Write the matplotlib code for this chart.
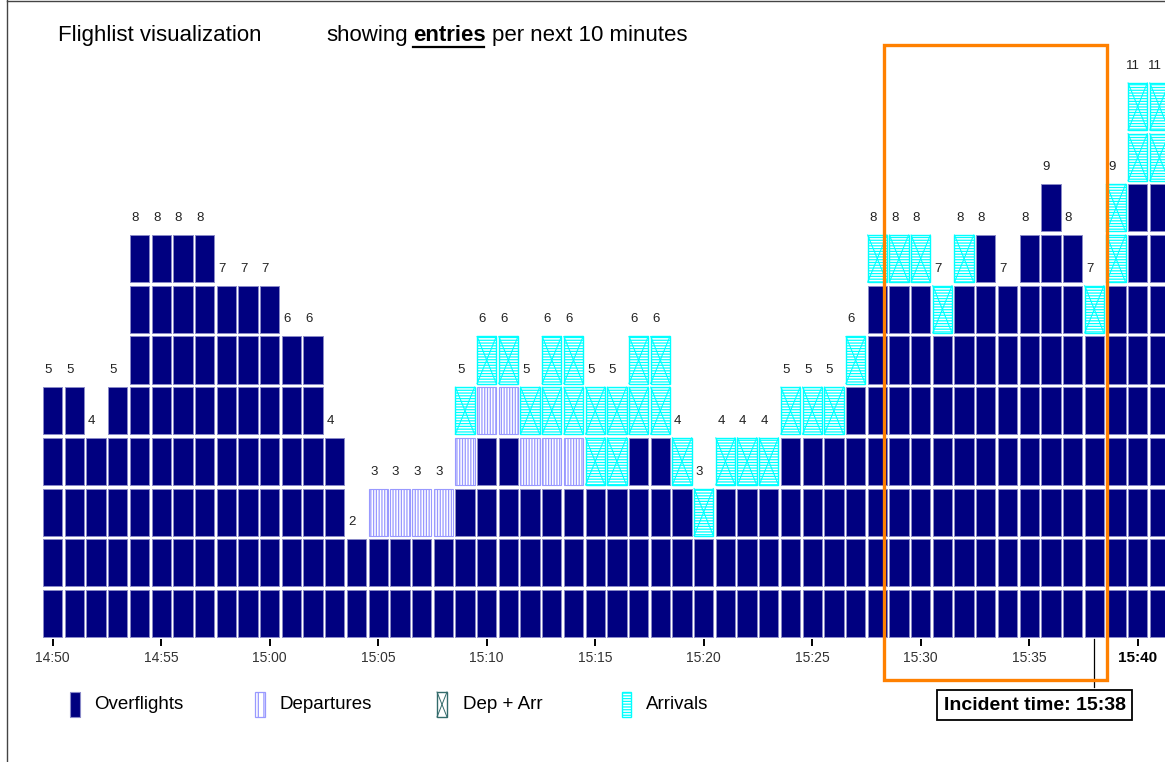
import matplotlib
matplotlib.use("Agg")
import matplotlib.pyplot as plt
from matplotlib.patches import Rectangle
from matplotlib.lines import Line2D

plt.rcParams['font.family'] = ['Liberation Sans', 'DejaVu Sans']
plt.rcParams['hatch.linewidth'] = 0.9

# one column per minute, 14:50 .. 15:41
overflights = [5, 5, 4, 5, 8, 8, 8, 8, 7, 7, 7, 6, 6, 4, 2,
               2, 2, 2, 2, 3, 4, 4, 3, 3, 3, 3, 3, 4, 4, 3,
               2, 3, 3, 3, 4, 4, 4, 5, 7, 7, 7, 6, 7, 8, 7,
               8, 9, 8, 6, 7, 9, 9]
departures = [0, 0, 0, 0, 0, 0, 0, 0, 0, 0, 0, 0, 0, 0, 0,
              1, 1, 1, 1, 1, 1, 1, 1, 1, 1, 0, 0, 0, 0, 0,
              0, 0, 0, 0, 0, 0, 0, 0, 0, 0, 0, 0, 0, 0, 0,
              0, 0, 0, 0, 0, 0, 0]
arrivals = [0, 0, 0, 0, 0, 0, 0, 0, 0, 0, 0, 0, 0, 0, 0,
            0, 0, 0, 0, 1, 1, 1, 1, 2, 2, 2, 2, 2, 2, 1,
            1, 1, 1, 1, 1, 1, 1, 1, 1, 1, 1, 1, 1, 0, 0,
            0, 0, 0, 1, 2, 2, 2]

tick_pos = [0, 5, 10, 15, 20, 25, 30, 35, 40, 45, 50]
tick_labels = ["14:50", "14:55", "15:00", "15:05", "15:10", "15:15",
               "15:20", "15:25", "15:30", "15:35", "15:40"]
incident_minute = 48
legend_names = ["Overflights", "Departures", "Dep + Arr", "Arrivals"]

W, H = 1165, 762
X0, DX = 52.7, 21.7     # pixel of first column centre, column pitch
Y0, DY = 638.85, 50.7   # pixel of baseline, row pitch

NAVY = '#000080'
NAVY_EDGE = '#8a8ac8'
DEP = '#9999ff'
ARR = '#00ffff'


def fx(px):
    return px / W


def fy(py):
    return 1 - py / H


fig = plt.figure(figsize=(W / 100, H / 100), dpi=100)
ax = fig.add_axes([0, 1 - Y0 / H, 1, Y0 / H])
ax.set_xlim(-X0 / DX, (W - X0) / DX)
ax.set_ylim(0, Y0 / DY)

cw = 0.885
gap = 0.036
ch = 1 - 2 * gap

for i in range(len(overflights)):
    k = 0
    for _ in range(overflights[i]):
        ax.bar(i, ch, bottom=k + gap, width=cw, color=NAVY,
               edgecolor=NAVY_EDGE, linewidth=0.7)
        k += 1
    for _ in range(departures[i]):
        ax.bar(i, ch, bottom=k + gap, width=cw, color='white',
               edgecolor=DEP, hatch='||||||', linewidth=0.8)
        k += 1
    for _ in range(arrivals[i]):
        ax.bar(i, ch, bottom=k + gap, width=cw, color='white',
               edgecolor=ARR, hatch='------', linewidth=1.0)
        ax.plot([i - cw / 2, i + cw / 2], [k + gap, k + 1 - gap],
                color=ARR, lw=0.8)
        ax.plot([i - cw / 2, i + cw / 2], [k + 1 - gap, k + gap],
                color=ARR, lw=0.8)
        k += 1
    ax.text(i - 0.2, k + 0.24, str(k), ha='center', va='baseline',
            fontsize=9.5, color='#222222')

ax.set_xticks(tick_pos)
ax.set_xticklabels(tick_labels)
ax.tick_params(axis='x', length=5.2, width=1.4, pad=3.5, labelsize=10,
               color='black', labelcolor='#333333')
ax.get_xticklabels()[-1].set_fontweight('bold')
ax.get_xticklabels()[-1].set_fontsize(11)
ax.get_xticklabels()[-1].set_color('black')
ax.set_yticks([])
for s in ax.spines.values():
    s.set_visible(False)
ax.patch.set_alpha(0)

# incident marker
ax.plot([incident_minute, incident_minute], [0, (Y0 - 687) / DY],
        color='black', lw=0.9, clip_on=False)
fig.text(fx(1034.5), fy(705), "Incident time: 15:38", ha='center',
         va='center', fontsize=14, fontweight='bold',
         bbox=dict(boxstyle='square,pad=0.33', fc='white', ec='black',
                   lw=1.3))

# orange highlight box
fig.add_artist(Rectangle((fx(884), fy(680)), fx(1107 - 884), (680 - 44.7) / H,
                         transform=fig.transFigure, fill=False,
                         edgecolor='#ff8000', lw=2.4, zorder=5))

# header
fig.text(fx(58), fy(41), "Flighlist visualization", fontsize=16,
         va='baseline', ha='left')
fig.text(fx(326), fy(41), "showing", fontsize=16, va='baseline', ha='left')
fig.text(fx(413), fy(41), "entries", fontsize=16, fontweight='bold',
         va='baseline', ha='left')
fig.text(fx(492), fy(41), "per next 10 minutes", fontsize=16,
         va='baseline', ha='left')
fig.add_artist(Line2D([fx(413), fx(484)], [fy(46.5), fy(46.5)],
                      transform=fig.transFigure, color='black', lw=1.6))

# legend
icon_y0, icon_y1 = 692, 717
icons = [
    (70, 80, dict(facecolor=NAVY, edgecolor=NAVY_EDGE, lw=0.8)),
    (255, 265, dict(facecolor='white', edgecolor=DEP, hatch='|||', lw=0.9)),
    (437, 447, dict(facecolor='white', edgecolor='#336b6b', lw=1.0)),
    (622, 631, dict(facecolor='white', edgecolor=ARR, hatch='------', lw=1.0)),
]
text_x = [94, 279.5, 463, 646]
for (x0, x1, style), tx, name in zip(icons, text_x, legend_names):
    fig.add_artist(Rectangle((fx(x0), fy(icon_y1)), fx(x1 - x0),
                             (icon_y1 - icon_y0) / H,
                             transform=fig.transFigure, **style))
    fig.text(fx(tx), fy(709), name, fontsize=13.5, va='baseline', ha='left')
for a, b in [((437, icon_y0), (447, icon_y1)), ((437, icon_y1), (447, icon_y0))]:
    fig.add_artist(Line2D([fx(a[0]), fx(b[0])], [fy(a[1]), fy(b[1])],
                          transform=fig.transFigure, color='#336b6b', lw=0.7))

# page frame
fig.add_artist(Line2D([fx(7), fx(7)], [0, 1], transform=fig.transFigure,
                      color='#444444', lw=1.0))
fig.add_artist(Line2D([fx(7), 1], [fy(0.5), fy(0.5)],
                      transform=fig.transFigure, color='#444444', lw=1.0))

fig.savefig("out.png", dpi=100, facecolor='white')
